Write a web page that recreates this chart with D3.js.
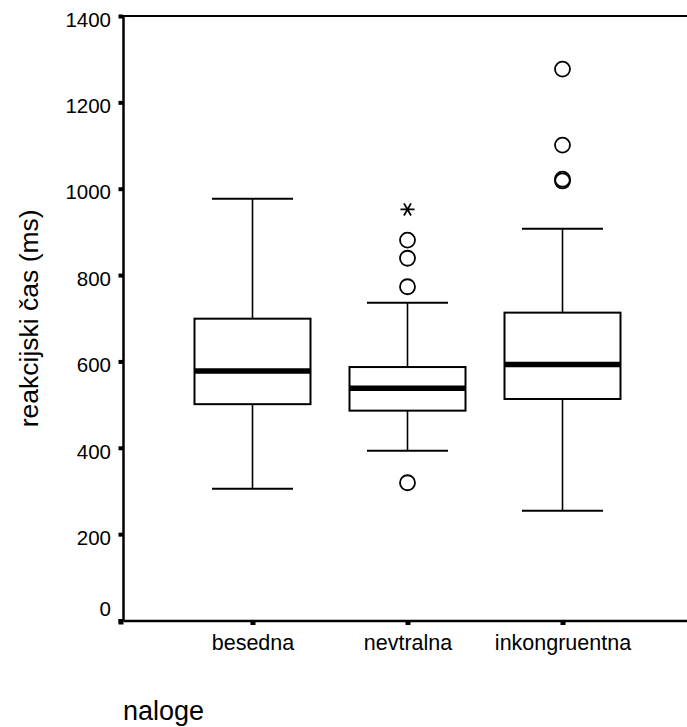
<!DOCTYPE html>
<html>
<head>
<meta charset="utf-8">
<script src="https://cdn.jsdelivr.net/npm/d3@7"></script>
<style>
  body { margin: 0; background: #fff; }
  text { font-family: Arial, "Liberation Sans", sans-serif; fill: #000; }
</style>
</head>
<body>
<div id="chart"></div>
<script>
// Set width and height
var svgWidth = 687;
var svgHeight = 727;

// Box plot data (ms)
var categories = ["besedna", "nevtralna", "inkongruentna"];
var whiskerLow = [305, 393, 254];
var q1 = [501, 486, 513];
var median = [578, 538, 593];
var q3 = [699, 587, 713];
var whiskerHigh = [977, 736, 907];
// Outliers (circles) and extremes (stars) per category
var outliers = [[], [881, 839, 773, 319], [1277, 1101, 1018, 1022]];
var extremes = [[], [952], []];
var yTicks = [0, 200, 400, 600, 800, 1000, 1200, 1400];

var margin = { top: 16, left: 123 };
var plotBottom = 620.5;
var plotRight = 692;

var svg = d3.select("#chart").append("svg")
    .attr("width", svgWidth)
    .attr("height", svgHeight);

// Scales
var yScale = d3.scaleLinear()
    .domain([0, 1400])
    .range([plotBottom, margin.top]);
var xScale = d3.scalePoint()
    .domain(categories)
    .range([margin.left, plotRight])
    .padding(0.8355);

var boxWidth = 116;
var capWidth = 81;

// Frame top line
svg.append("line")
    .attr("x1", margin.left).attr("x2", svgWidth)
    .attr("y1", margin.top).attr("y2", margin.top)
    .attr("stroke", "#000").attr("stroke-width", 2);

// Y axis
var leftAxis = d3.axisLeft(yScale)
    .tickValues(yTicks)
    .tickFormat(d3.format("d"))
    .tickSize(0)
    .tickPadding(12);
var yAxisG = svg.append("g")
    .attr("transform", `translate(${margin.left}, 0)`)
    .call(leftAxis);
yAxisG.select(".domain").attr("stroke", "#000").attr("stroke-width", 2.5);
yAxisG.selectAll(".tick text")
    .style("font-size", "20.5px")
    .attr("dy", d => d === 0 ? "-0.25em" : "0.5em");
yAxisG.selectAll(".tick").append("rect")
    .attr("x", -4.5).attr("y", -2).attr("width", 4.5).attr("height", 4)
    .attr("fill", "#000");

// X axis
var bottomAxis = d3.axisBottom(xScale).tickSize(0).tickPadding(14);
var xAxisG = svg.append("g")
    .attr("transform", `translate(0, ${plotBottom})`)
    .call(bottomAxis);
xAxisG.select(".domain").attr("stroke", "#000").attr("stroke-width", 2.5);
xAxisG.selectAll(".tick text").style("font-size", "21.5px");
xAxisG.selectAll(".tick").append("rect")
    .attr("x", -2.5).attr("y", 0).attr("width", 5).attr("height", 4.5)
    .attr("fill", "#000");
svg.append("rect")
    .attr("x", margin.left - 4.5).attr("y", plotBottom - 1)
    .attr("width", 5).attr("height", 5).attr("fill", "#000");

// Boxes
var boxes = svg.append("g").selectAll("g")
    .data(categories)
    .enter().append("g");

boxes.append("line")
    .attr("x1", d => xScale(d)).attr("x2", d => xScale(d))
    .attr("y1", (d, i) => yScale(whiskerHigh[i]))
    .attr("y2", (d, i) => yScale(q3[i]))
    .attr("stroke", "#000").attr("stroke-width", 1.6);
boxes.append("line")
    .attr("x1", d => xScale(d)).attr("x2", d => xScale(d))
    .attr("y1", (d, i) => yScale(q1[i]))
    .attr("y2", (d, i) => yScale(whiskerLow[i]))
    .attr("stroke", "#000").attr("stroke-width", 1.6);
boxes.append("line")
    .attr("x1", d => xScale(d) - capWidth / 2).attr("x2", d => xScale(d) + capWidth / 2)
    .attr("y1", (d, i) => yScale(whiskerHigh[i]))
    .attr("y2", (d, i) => yScale(whiskerHigh[i]))
    .attr("stroke", "#000").attr("stroke-width", 2);
boxes.append("line")
    .attr("x1", d => xScale(d) - capWidth / 2).attr("x2", d => xScale(d) + capWidth / 2)
    .attr("y1", (d, i) => yScale(whiskerLow[i]))
    .attr("y2", (d, i) => yScale(whiskerLow[i]))
    .attr("stroke", "#000").attr("stroke-width", 2);
boxes.append("rect")
    .attr("x", d => xScale(d) - boxWidth / 2)
    .attr("width", boxWidth)
    .attr("y", (d, i) => yScale(q3[i]))
    .attr("height", (d, i) => yScale(q1[i]) - yScale(q3[i]))
    .attr("fill", "#fff").attr("stroke", "#000").attr("stroke-width", 2);
boxes.append("line")
    .attr("x1", d => xScale(d) - boxWidth / 2).attr("x2", d => xScale(d) + boxWidth / 2)
    .attr("y1", (d, i) => yScale(median[i]))
    .attr("y2", (d, i) => yScale(median[i]))
    .attr("stroke", "#000").attr("stroke-width", 5.5);

// Outliers
categories.forEach(function(cat, i) {
    svg.append("g").selectAll("circle")
        .data(outliers[i])
        .enter().append("circle")
        .attr("cx", xScale(cat))
        .attr("cy", d => yScale(d))
        .attr("r", 7.5)
        .attr("fill", "none").attr("stroke", "#000").attr("stroke-width", 1.8);
    svg.append("g").selectAll("path")
        .data(extremes[i])
        .enter().append("path")
        .attr("d", d3.symbol().type(d3.symbolAsterisk).size(140))
        .attr("transform", d => `translate(${xScale(cat)}, ${yScale(d)}) rotate(90)`)
        .attr("stroke", "#000").attr("stroke-width", 1.8);
});

// Axis titles
svg.append("text")
    .attr("transform", `translate(38, ${(margin.top + plotBottom) / 2}) rotate(-90)`)
    .attr("text-anchor", "middle")
    .style("font-size", "26.5px")
    .text("reakcijski čas (ms)");
svg.append("text")
    .attr("x", margin.left)
    .attr("y", 720)
    .style("font-size", "27px")
    .text("naloge");
</script>
</body>
</html>
